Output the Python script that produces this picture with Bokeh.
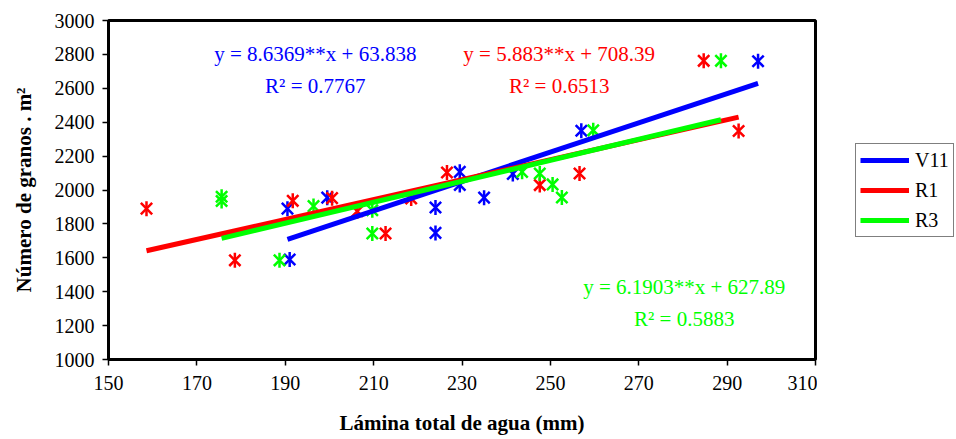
import math
from bokeh.plotting import figure
from bokeh.layouts import row
from bokeh.models import (FixedTicker, Label, Legend, LegendItem, Range1d)
from bokeh.embed import file_html
from bokeh.resources import INLINE

# Water applied (mm) and grain number per m² for each cultivar
v11_x = [297.0, 257.0, 229.5, 229.5, 235.0, 224.0, 224.0, 241.5, 190.5, 191.0, 199.5]
v11_y = [2760, 2350, 2107, 2030, 1955, 1897, 1747, 2095, 1890, 1590, 1955]

r1_x = [158.6, 178.6, 191.7, 200.6, 206.3, 212.7, 218.5, 226.6, 247.6, 256.6, 284.7, 292.6]
r1_y = [1890, 1585, 1936, 1952, 1875, 1743, 1950, 2103, 2029, 2097, 2762, 2348]

r3_x = [175.6, 175.6, 188.7, 196.4, 209.7, 209.7, 243.6, 247.6, 250.5, 252.6, 259.7, 288.6]
r3_y = [1960, 1935, 1585, 1905, 1743, 1881, 2107, 2097, 2033, 1956, 2352, 2762]

# Fitted regressions (slope, intercept, R²)
v11_fit = (8.6369, 63.838, 0.7767)
r1_fit = (5.883, 708.39, 0.6513)
r3_fit = (6.1903, 627.89, 0.5883)

x_ticks = [150, 170, 190, 210, 230, 250, 270, 290, 310]
y_ticks = [1000, 1200, 1400, 1600, 1800, 2000, 2200, 2400, 2600, 2800, 3000]

SERIF = "Liberation Serif"

p = figure(width=817, height=439, output_backend="svg", toolbar_location=None,
           x_range=Range1d(150, 310), y_range=Range1d(1000, 3000),
           min_border_left=108, min_border_right=2, min_border_top=20,
           min_border_bottom=80)
p.background_fill_color = "white"
p.border_fill_color = "white"
p.grid.visible = False
p.outline_line_color = "black"
p.outline_line_width = 3

p.xaxis.ticker = FixedTicker(ticks=x_ticks)
p.yaxis.ticker = FixedTicker(ticks=y_ticks)
for ax in (p.xaxis[0], p.yaxis[0]):
    ax.axis_line_width = 3
    ax.axis_line_color = "black"
    ax.major_tick_line_color = "black"
    ax.major_tick_line_width = 1.5
    ax.major_tick_out = 6
    ax.major_tick_in = 0
    ax.minor_tick_line_color = None
    ax.major_label_text_font = SERIF
    ax.major_label_text_font_size = "20px"
    ax.major_label_text_color = "black"
    ax.axis_label_text_font = SERIF
    ax.axis_label_text_font_size = "21px"
    ax.axis_label_text_font_style = "bold"
    ax.axis_label_text_color = "black"

p.xaxis.axis_label = "Lámina total de agua (mm)"
p.yaxis.axis_label = "Número de granos . m²"
p.xaxis.major_label_standoff = 10
p.xaxis.axis_label_standoff = 18
p.yaxis.major_label_standoff = 8
p.yaxis.axis_label_standoff = 16
p.yaxis.major_label_orientation = "horizontal"


def star(xs, ys, color):
    # X with a vertical bar through it
    p.scatter(xs, ys, marker="x", size=16, line_color=color, line_width=2.5)
    p.scatter(xs, ys, marker="dash", size=15, angle=math.pi / 2,
              line_color=color, line_width=2.5)


series = [
    ("V11", v11_x, v11_y, v11_fit, "#0000FF"),
    ("R1", r1_x, r1_y, r1_fit, "#FF0000"),
    ("R3", r3_x, r3_y, r3_fit, "#00FF00"),
]

for name, xs, ys, fit, color in series:
    star(xs, ys, color)

for name, xs, ys, fit, color in series:
    m, b, _ = fit
    x0, x1 = min(xs), max(xs)
    p.line([x0, x1], [m * x0 + b, m * x1 + b], line_color=color, line_width=5)


# Regression equations written beside the data
def equation(fit, color, x, y):
    m, b, r2 = fit
    p.add_layout(Label(x=x, y=y, text=f"y = {m}**x + {b}", text_align="center",
                       text_baseline="middle", text_font=SERIF,
                       text_font_size="21px", text_color=color))
    p.add_layout(Label(x=x, y=y - 185, text=f"R² = {r2}", text_align="center",
                       text_baseline="middle", text_font=SERIF,
                       text_font_size="21px", text_color=color))


equation(v11_fit, "#0000FF", 196.8, 2800)
equation(r1_fit, "#FF0000", 252.0, 2800)
equation(r3_fit, "#00FF00", 280.3, 1425)

# Legend panel to the right of the chart; its line renderers sit outside
# the visible range so only the legend swatches show
lg = figure(width=139, height=439, output_backend="svg", toolbar_location=None,
            x_axis_type=None, y_axis_type=None, min_border=0,
            x_range=Range1d(0, 1), y_range=Range1d(0, 1))
lg.outline_line_color = None
lg.grid.visible = False
items = []
for name, xs, ys, fit, color in series:
    r = lg.line([5, 6], [5, 6], line_color=color, line_width=5)
    items.append(LegendItem(label=name, renderers=[r]))

legend = Legend(items=items, location=(38, 122), orientation="vertical",
                margin=0,
                label_text_font=SERIF, label_text_font_size="20px",
                label_text_color="black", glyph_width=49, glyph_height=24,
                spacing=6, padding=4, label_standoff=6,
                border_line_color="black", border_line_width=1.5,
                background_fill_color="white", background_fill_alpha=1.0)
lg.add_layout(legend, "center")

layout = row(p, lg, spacing=0)
open("out.html", "w").write(file_html(layout, INLINE))
